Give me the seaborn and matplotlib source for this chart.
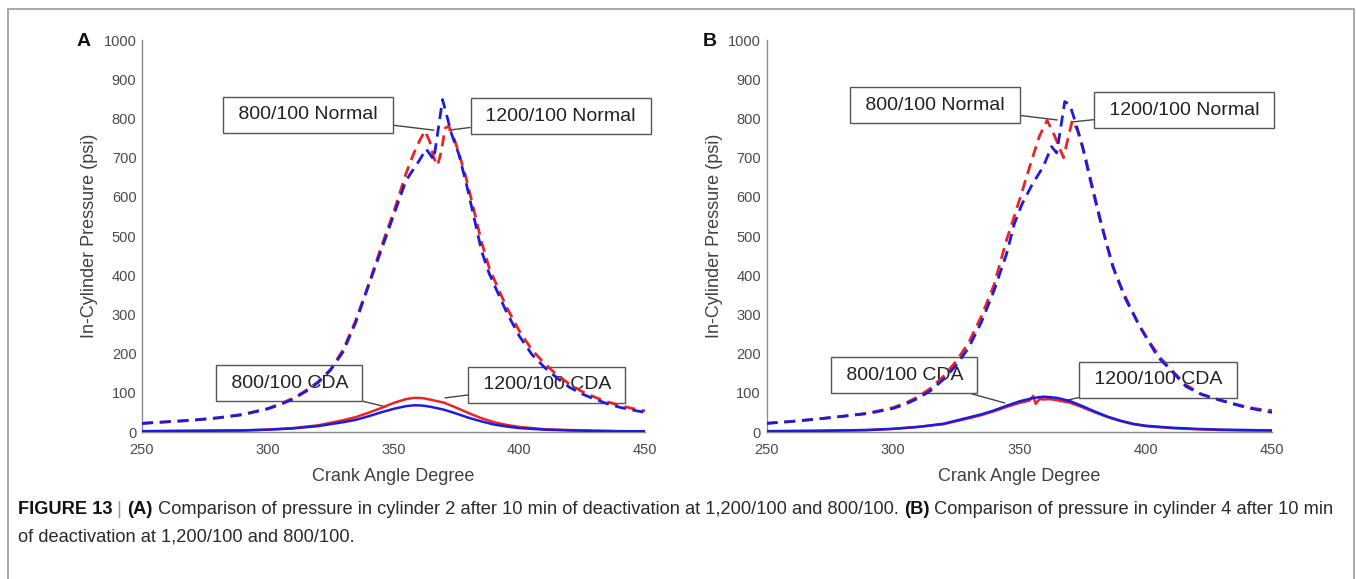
import matplotlib
matplotlib.use("Agg")
import matplotlib.pyplot as plt
import seaborn as sns
from matplotlib import font_manager
from matplotlib.patches import Rectangle

# --- valores (graus x psi) ---
# painel A, motor normal
ang_a_n800 = [250, 260, 270, 280, 290, 300, 305, 310, 315, 320, 325, 330, 335, 340, 345,
              350, 355, 358, 360.5, 362.5, 364.5, 366, 367.5, 369, 370.5, 372, 374, 376, 379,
              382, 385, 388, 391, 395, 400, 405, 410, 415, 420, 425, 430, 435, 440, 445, 450]
p_a_n800 = [22, 26, 30, 36, 45, 60, 72, 86, 105, 128, 160, 210, 285, 375, 470,
            560, 660, 710, 745, 768, 740, 700, 680, 715, 775, 780, 750, 712, 645,
            565, 485, 420, 375, 318, 258, 210, 175, 146, 122, 103, 89, 77, 68, 60, 54]
ang_a_n1200 = [250, 260, 270, 280, 290, 300, 305, 310, 315, 320, 325, 330, 335, 340, 345,
               350, 355, 360, 363, 366, 367.5, 369.5, 371, 373, 376, 379, 382, 385, 388, 391,
               395, 400, 405, 410, 415, 420, 425, 430, 435, 440, 445, 450]
p_a_n1200 = [22, 26, 30, 36, 44, 59, 70, 84, 103, 126, 158, 205, 280, 372, 462,
             552, 642, 690, 722, 695, 760, 848, 812, 762, 708, 632, 548, 462, 405, 362,
             305, 245, 198, 165, 138, 114, 97, 84, 72, 63, 56, 50]

# painel A / B, cilindro desativado (CDA)
ang_cda = [250, 270, 290, 300, 310, 320, 330, 335, 340, 345, 350, 355, 358, 360,
           362, 365, 370, 375, 380, 385, 390, 395, 400, 410, 420, 430, 440, 450]
p_a_c800 = [2, 3, 4, 6, 10, 17, 30, 38, 49, 61, 74, 84, 87, 87,
            86, 82, 75, 62, 48, 35, 25, 18, 13, 7, 5, 3, 2, 2]
p_a_c1200 = [2, 3, 4, 6, 9, 15, 25, 31, 40, 50, 59, 66, 68, 68,
             67, 64, 57, 47, 36, 27, 19, 14, 10, 6, 4, 3, 2, 2]

# painel B, motor normal
ang_b_n800 = [250, 260, 270, 280, 290, 300, 305, 310, 315, 320, 325, 330, 335, 340, 345,
              350, 355, 358, 361, 363, 365, 367.5, 369.5, 371, 373, 376, 379, 382, 385, 388,
              392, 397, 402, 406, 410, 416, 422, 429, 435, 440, 445, 450]
p_b_n800 = [22, 27, 33, 40, 48, 62, 74, 90, 112, 142, 180, 228, 295, 375, 490,
            590, 695, 755, 795, 770, 740, 700, 755, 795, 770, 705, 625, 545, 470, 405,
            345, 278, 225, 188, 160, 120, 97, 82, 72, 64, 58, 55]
ang_b_n1200 = [250, 260, 270, 280, 290, 300, 305, 310, 315, 320, 325, 330, 335, 340, 345,
               348, 351, 355, 359.5, 362.8, 364.8, 366.5, 368, 370, 372, 375, 378, 382, 387, 392,
               398, 405, 410, 416, 422, 429, 435, 440, 445, 450]
p_b_n1200 = [22, 27, 33, 40, 47, 60, 71, 86, 106, 134, 170, 215, 280, 360, 455,
             530, 580, 630, 677, 728, 712, 780, 843, 835, 795, 730, 645, 540, 422, 340,
             265, 190, 158, 116, 96, 82, 71, 62, 56, 50]

# painel B, CDA
ang_b_c800 = [250, 270, 290, 300, 310, 320, 330, 335, 340, 345, 350, 354, 355.5, 356.5, 358,
              360, 362, 365, 370, 375, 380, 385, 390, 395, 400, 410, 420, 430, 440, 450]
p_b_c800 = [2, 3, 5, 8, 13, 20, 35, 43, 53, 64, 74, 80, 92, 72, 84,
            83, 84, 81, 75, 63, 50, 38, 28, 20, 15, 10, 7, 5, 4, 4]
p_b_c1200 = [2, 3, 5, 8, 13, 21, 37, 45, 55, 67, 78, 86, 89, 90,
             89, 87, 79, 66, 52, 39, 29, 21, 16, 11, 8, 6, 5, 4]

x_ticks = [250, 300, 350, 400, 450]
y_ticks = [0, 100, 200, 300, 400, 500, 600, 700, 800, 900, 1000]

# (texto, alvo da seta, centro da caixa)
labels_a = [("800/100 Normal", (366, 770), (316, 809)),
            ("1200/100 Normal", (372, 770), (416.5, 806)),
            ("800/100 CDA", (347, 64), (308.5, 125)),
            ("1200/100 CDA", (370.5, 87), (411, 120))]
labels_b = [("800/100 Normal", (365, 796), (316.7, 834)),
            ("1200/100 Normal", (371, 791), (415.2, 821)),
            ("800/100 CDA", (344.3, 74), (304.4, 145)),
            ("1200/100 CDA", (366, 77), (404.9, 133))]

RED = "#ee2222"
BLUE = "#1c1ce0"
W, H = 1356, 579

sns.set_style("white")
plt.rcParams['font.family'] = ['Liberation Sans', 'DejaVu Sans']

fig = plt.figure(figsize=(W / 100, H / 100), dpi=100)
ax_a = fig.add_axes([142 / W, 1 - 432 / H, 503 / W, 392 / H])
ax_b = fig.add_axes([766.5 / W, 1 - 432 / H, 505.5 / W, 392 / H])


def desenha(ax, normais, cdas, rotulos, letra, x_letra):
    dash = (0, (4, 2.4))
    for x, y, c in normais:
        sns.lineplot(x=x, y=y, ax=ax, color=c, lw=2.0, linestyle=dash,
                     errorbar=None, sort=False, legend=False, zorder=3)
    for x, y, c in cdas:
        sns.lineplot(x=x, y=y, ax=ax, color=c, lw=1.8,
                     errorbar=None, sort=False, legend=False, zorder=3)
    ax.set_xlim(250, 450)
    ax.set_ylim(0, 1000)
    ax.set_xticks(x_ticks)
    ax.set_yticks(y_ticks)
    for s in ["top", "right"]:
        ax.spines[s].set_visible(False)
    for s in ["left", "bottom"]:
        ax.spines[s].set_color("#8a8a8a")
        ax.spines[s].set_linewidth(1.0)
    ax.tick_params(axis="both", direction="in", length=4, width=1, color="#8a8a8a",
                   labelcolor="#4a4a4a", labelsize=10.5)
    ax.tick_params(axis="x", pad=8)
    ax.tick_params(axis="y", pad=4)
    ax.set_xlabel("Crank Angle Degree", fontsize=13, color="#404040", labelpad=8)
    ax.set_ylabel("In-Cylinder Pressure (psi)", fontsize=13, color="#404040", labelpad=4)
    # caixas por baixo das curvas, como no original
    for txt, alvo, centro in rotulos:
        ax.annotate(" " + txt + " ", xy=alvo, xytext=centro, textcoords="data",
                    ha="center", va="center", fontsize=14, color="#222222",
                    bbox=dict(boxstyle="square,pad=0.5", fc="white", ec="#555555", lw=1),
                    arrowprops=dict(arrowstyle="-", color="#444444", lw=1,
                                    shrinkA=0, shrinkB=0),
                    annotation_clip=False, zorder=1)
    fig.text(x_letra / W, 1 - 42 / H, letra, fontsize=14, fontweight="bold",
             color="#111111", ha="left", va="center")


desenha(ax_a,
        [(ang_a_n800, p_a_n800, RED), (ang_a_n1200, p_a_n1200, BLUE)],
        [(ang_cda, p_a_c800, RED), (ang_cda, p_a_c1200, BLUE)],
        labels_a, "A", 77)
desenha(ax_b,
        [(ang_b_n800, p_b_n800, RED), (ang_b_n1200, p_b_n1200, BLUE)],
        [(ang_b_c800, p_b_c800, RED), (ang_cda, p_b_c1200, BLUE)],
        labels_b, "B", 703)

# moldura da figura
fig.patches.append(Rectangle((8 / W, -0.05), (1354 - 8) / W, 1.05 - 9 / H,
                             transform=fig.transFigure, fill=False,
                             ec="#9a9a9a", lw=1.2, clip_on=False))

# legenda (caption)
nomes = {f.name for f in font_manager.fontManager.ttflist}
fam_cap = "Liberation Sans Narrow" if "Liberation Sans Narrow" in nomes else "Liberation Sans"

linha1 = [("FIGURE 13", "bold", "#111111"), (" | ", "normal", "#999999"),
          ("(A)", "bold", "#111111"),
          (" Comparison of pressure in cylinder 2 after 10 min of deactivation at 1,200/100 and 800/100. ",
           "normal", "#2a2a2a"),
          ("(B)", "bold", "#111111"),
          (" Comparison of pressure in cylinder 4 after 10 min", "normal", "#2a2a2a")]
linha2 = [("of deactivation at 1,200/100 and 800/100.", "normal", "#2a2a2a")]

renderer = fig.canvas.get_renderer()


def escreve(pecas, x0, y, tam):
    x = x0
    objs = []
    for txt, peso, cor in pecas:
        t = fig.text(x / W, 1 - y / H, txt, fontsize=tam, fontweight=peso, color=cor,
                     ha="left", va="center", family=fam_cap)
        x += t.get_window_extent(renderer).width
        objs.append(t)
    return x, objs


fim, tmp = escreve(linha1, 18, 510, 12)
for t in tmp:
    t.remove()
tam = 12 * (1335 - 18) / (fim - 18)
escreve(linha1, 18, 510, tam)
escreve(linha2, 18, 537, tam)

plt.savefig("out.png", dpi=100)
